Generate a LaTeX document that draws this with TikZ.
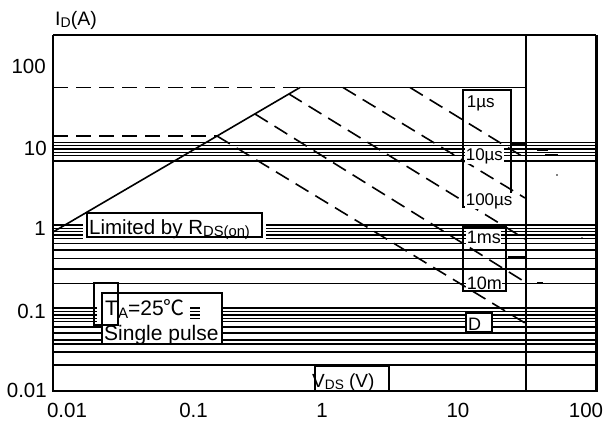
\documentclass[tikz,border=0pt]{standalone}
\usepackage{fontspec}
\setmainfont{Liberation Sans}
\newfontfamily\cjkf{Noto Sans CJK SC}
\newcommand\lowsub[1]{\raisebox{-0.12em}{\scalebox{0.72}{#1}}}
\begin{document}
\begin{tikzpicture}[x=1pt,y=-1pt,
  hl/.style={line width=1.3pt},
  thk/.style={line width=2.3pt},
  dsh/.style={line width=1.6pt, dash pattern=on 15pt off 8pt},
  bx/.style={draw, line width=1.4pt},
  lbl/.style={font=\fontsize{20.5}{24}\selectfont, inner sep=0pt},
  tick/.style={font=\fontsize{20.5}{24}\selectfont, inner sep=0pt},
  sml/.style={font=\fontsize{17}{20}\selectfont, inner sep=0.6pt, fill=white},
]
\useasboundingbox (0,0) rectangle (606,423);
% horizontal grid-like lines
\foreach \y in {142.3,145.7,149,152.3,155.7,161,243.3,250,258.3,283.3,344,352,365}
  \draw[hl] (53,\y) -- (596,\y);
\draw[thk] (53,269) -- (596,269);
\foreach \y in {225,228.3,231.7,235,238.3} {
  \draw[hl] (53,\y) -- (83,\y);
  \draw[hl] (266,\y) -- (596,\y);}
\foreach \y in {308,311.7,315,318.3,321.7} {
  \draw[hl] (53,\y) -- (97,\y);
  \draw[hl] (222,\y) -- (596,\y);}
\foreach \y in {327,333,340} {
  \draw[hl] (53,\y) -- (102,\y);
  \draw[hl] (222,\y) -- (596,\y);}
% limits
\draw[dsh] (53,87.5) -- (300,87.5);
\draw[hl] (300,87.5) -- (526,87.5);
\draw[dsh] (53,136) -- (217,136);
\draw[line width=1.6pt] (53,232) -- (300,87.5);
% pulse lines
\draw[dsh] (410,87.5) -- (525,158);
\draw[dsh] (343,87.5) -- (525,198);
\draw[dsh] (289,94) -- (525,239);
\draw[dsh] (255,114) -- (525,282);
\draw[dsh] (217,136) -- (525,323);
% frame
\draw[line width=1.6pt] (53,35) -- (596,35);
\draw[line width=2pt] (53,35) -- (53,391);
\draw[line width=1.8pt] (526,35) -- (526,391);
\draw[line width=3pt] (596,35) -- (596,392);
\draw[line width=2.6pt] (52,391) -- (597.5,391);
% small stray marks
\draw[line width=2pt] (512,144) -- (525,144);
\draw[line width=1.6pt] (537,150) -- (548,150);
\draw[line width=2pt] (545,155) -- (558,155);
\fill (557,175) circle (0.8);
\fill (552,225) circle (1);
\fill (582,238) circle (0.8);
\draw[line width=2.3pt] (565,250) -- (570,250);
\draw[line width=2.3pt] (537,283) -- (543,283);
\draw[line width=2.3pt] (508,257) -- (525,257);
% Limited by box
\draw[bx] (87,213) rectangle (262,237);
\node[lbl, anchor=base west] (rds) at (89,234) {Limited by R\lowsub{DS(on)}};
% TA boxes
\draw[bx, fill=white] (102,293) rectangle (222,344);
\draw[bx] (94,283) rectangle (118,325);
\node[lbl, font=\fontsize{21}{24}\selectfont, anchor=base west] (ta) at (105,315.5) {T\lowsub{A}=25{\cjkf ℃}};
\node[lbl, font=\fontsize{21}{24}\selectfont, anchor=base west] (sp) at (104,340) {Single pulse};
\foreach \y in {308,311.7,315,318.3} \draw[hl] (190,\y) -- (200,\y);
% time labels
\draw[bx] (463,90) rectangle (511,207);
\node[sml, anchor=base west] (t1) at (466,107) {1µs};
\node[sml, anchor=base west] (t2) at (465,160) {10µs};
\node[sml, anchor=base west] (t3) at (465,205) {100µs};
\draw[bx] (463,227) rectangle (506,291);
\node[sml, font=\fontsize{18}{20}\selectfont, anchor=base west] (t4) at (466,243) {1ms};
\node[sml, font=\fontsize{18}{20}\selectfont, anchor=base west] (t5) at (466,289) {10m};
\draw[bx, fill=white] (466,313) rectangle (492,332);
\node[lbl, font=\fontsize{18}{20}\selectfont, anchor=base west] (dc) at (468,330) {D};
% x axis title
\node[lbl, font=\fontsize{19}{22}\selectfont, anchor=base west] (vds) at (312,387) {V\lowsub{DS} (V)};
\draw[bx] (315,391) -- (315,366) -- (389,366) -- (389,391);
% axis labels
\node[lbl, font=\fontsize{19.5}{23}\selectfont, anchor=base west] (id) at (55,25) {I\lowsub{D}(A)};
\node[tick, anchor=base east] (y100) at (46,73) {100};
\node[tick, anchor=base east] (y10) at (47,155) {10};
\node[tick, anchor=base east] (y1) at (46,235) {1};
\node[tick, anchor=base east] (y01) at (46,318) {0.1};
\node[tick, anchor=base east] (y001) at (47,397) {0.01};
\node[tick, anchor=base] (x001) at (67,417) {0.01};
\node[tick, anchor=base] (x01) at (193.5,417) {0.1};
\node[tick, anchor=base] (x1) at (322,417) {1};
\node[tick, anchor=base] (x10) at (458,417) {10};
\node[tick, anchor=base] (x100) at (586,417) {100};
\end{tikzpicture}
\end{document}
